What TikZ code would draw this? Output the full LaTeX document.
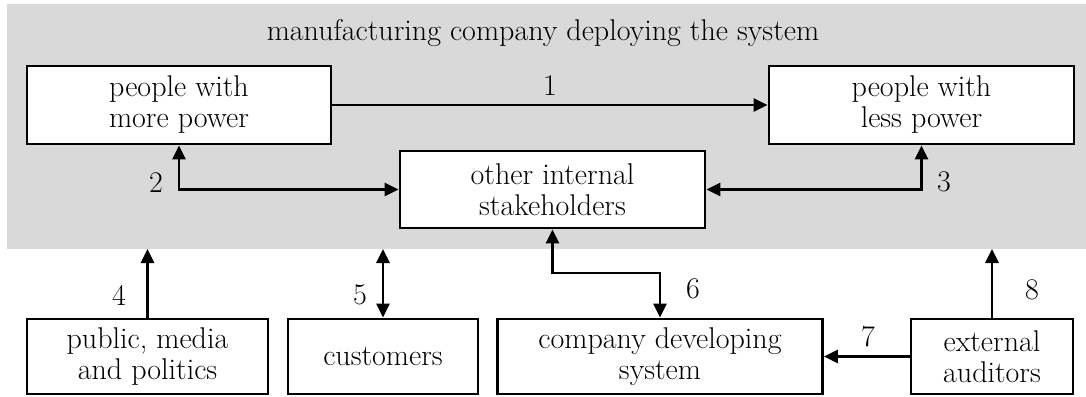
\documentclass[tikz,border=0pt]{standalone}
\usetikzlibrary{arrows.meta}
\begin{document}
\begin{tikzpicture}[x=1pt,y=-1pt,
  every node/.style={font=\fontsize{30}{31}\selectfont},
  actor/.style={draw=black,line width=2.7pt,fill=white,align=center,
    inner sep=0pt,minimum height=75pt},
  num/.style={inner sep=0pt},
  tip/.tip={Triangle[length=14pt,width=13pt]},
  link/.style={line width=2.7pt,-tip},
  both/.style={line width=2.7pt,tip-tip}]
\useasboundingbox (0,0) rectangle (1086,396);
% the deploying company
\fill[black!15] (7,4) rectangle (1086,249);
\coordinate (zone) at (0,249);
\node (title) at (543,33) {manufacturing company deploying the system};
% stakeholders inside the company
\node[actor,minimum width=304pt,minimum height=78pt] (more) at (179,105) {people with\\more power};
\node[actor,minimum width=305pt,minimum height=78pt] (less) at (921.5,105) {people with\\less power};
\node[actor,minimum width=305pt,minimum height=77pt] (other) at (552.5,189.5) {other internal\\stakeholders};
% stakeholders outside the company
\node[actor,minimum width=241pt] (public) at (147.5,356.5) {public, media\\and politics};
\node[actor,minimum width=190pt] (cust) at (383,356.5) {customers};
\node[actor,minimum width=325pt] (dev) at (660,356.5) {company developing\\system};
\node[actor,minimum width=162pt] (aud) at (992,356.5) {external\\auditors};
% relations
\draw[link] (more.east) -- (less.west);
\node[num] (n1) at (550,86) {1};
\draw[both] (more.south) |- (other.west);
\node[num] (n2) at (156,183) {2};
\draw[both] (less.south) |- (other.east);
\node[num] (n3) at (944,182) {3};
\draw[link] (public.north) -- (public.north |- zone);
\node[num] (n4) at (119,295) {4};
\draw[both] (cust.north) -- (cust.north |- zone);
\node[num] (n5) at (360,295) {5};
\draw[both] (other.south) -- (other.south |- 0,273) -| (dev.north);
\node[num] (n6) at (693,289) {6};
\draw[link] (aud.west) -- (dev.east);
\node[num] (n7) at (868,337) {7};
\draw[link] (aud.north) -- (aud.north |- zone);
\node[num] (n8) at (1032,290) {8};
\end{tikzpicture}
\end{document}
